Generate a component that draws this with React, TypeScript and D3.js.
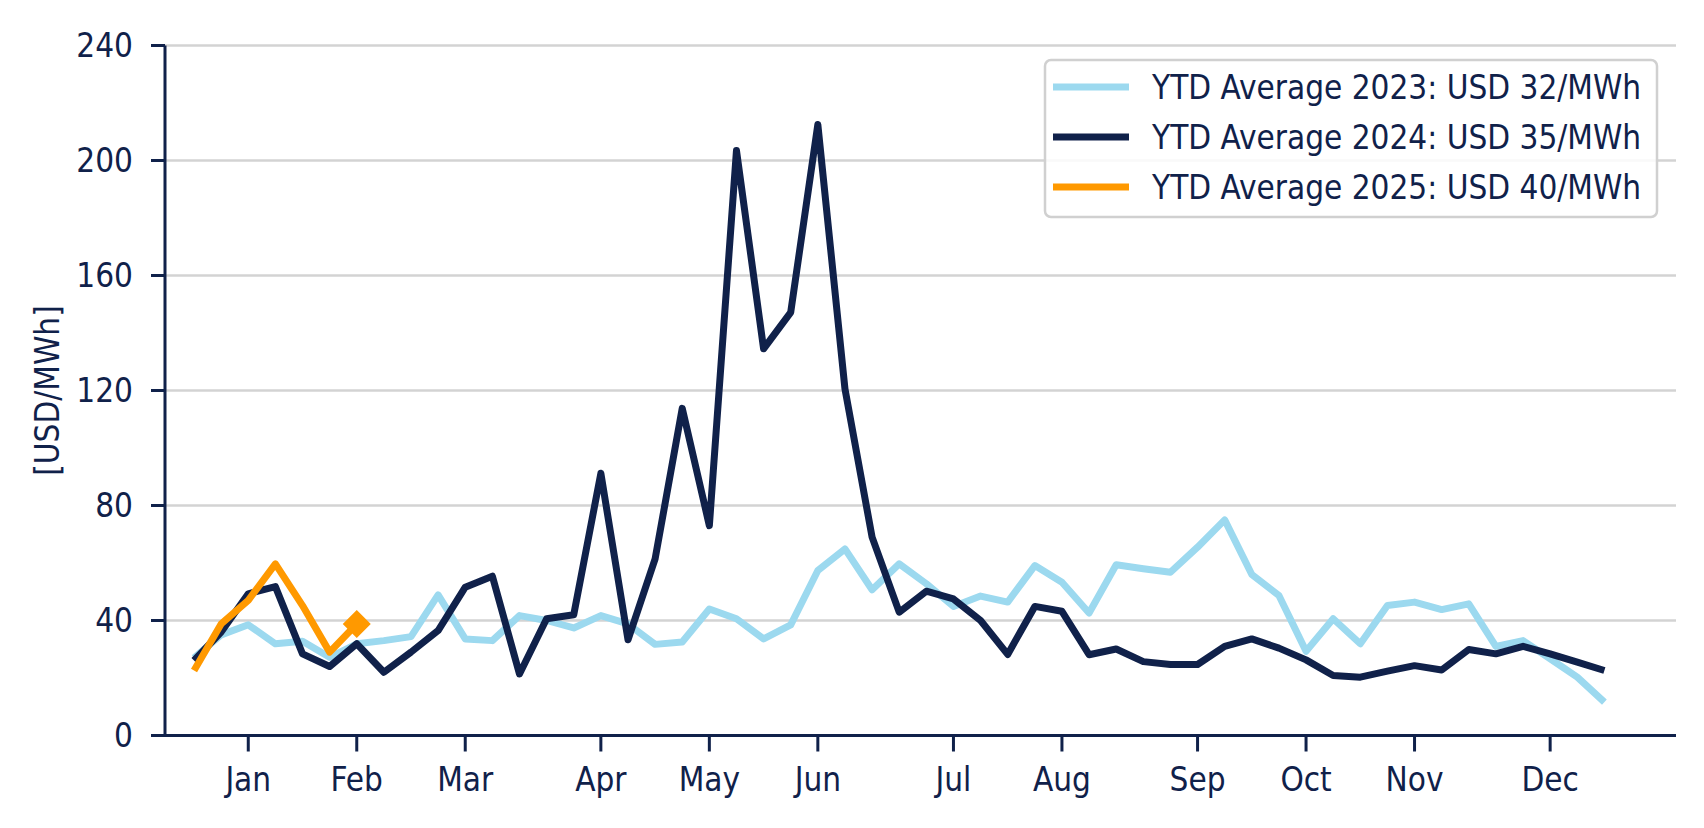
import * as d3 from 'd3'

// weekly averages, week index 0..52
const prices2023 = [27, 35, 38.5, 31.9, 32.8, 27.2, 31.9, 33, 34.4, 48.9, 33.6, 33, 41.7, 40, 37.4, 41.7, 38.8, 31.7, 32.5, 44, 40.6, 33.6, 38.5, 57.4, 64.9, 50.7, 59.7, 52.8, 44.9, 48.5, 46.4, 59.1, 53.3, 42.6, 59.4, 58, 56.8, 65.5, 75, 56, 48.7, 29.3, 40.6, 31.9, 45.2, 46.4, 43.8, 45.8, 31, 33, 26.7, 20.3, 11.6]
const prices2024 = [26.1, 36, 49.3, 51.8, 28.4, 24, 31.9, 22, 29, 36.5, 51.6, 55.4, 21.4, 40.6, 42, 91.2, 33.3, 61.4, 113.8, 73, 203.5, 134.5, 147.2, 212.5, 120.6, 69, 42.9, 50.2, 47.5, 40, 28.2, 44.9, 43.2, 28.1, 30.1, 25.7, 24.7, 24.7, 31, 33.6, 30.4, 26.3, 20.9, 20.3, 22.4, 24.3, 22.8, 29.9, 28.4, 31, 28.4, 25.5, 22.6]
const prices2025 = [22.6, 38.8, 47, 59.7, 45.2, 29, 38.8]

const monthLabels = ['Jan', 'Feb', 'Mar', 'Apr', 'May', 'Jun', 'Jul', 'Aug', 'Sep', 'Oct', 'Nov', 'Dec']
const monthWeeks = [2, 6, 10, 15, 19, 23, 28, 32, 37, 41, 45, 50]
const yTicks = [0, 40, 80, 120, 160, 200, 240]

const legendLabels = [
    'YTD Average 2023: USD 32/MWh',
    'YTD Average 2024: USD 35/MWh',
    'YTD Average 2025: USD 40/MWh'
]

const navy = '#10214a'
const colors = ['#9cd9ef', navy, '#ff9900']
const font = "'DejaVu Sans Condensed', 'DejaVu Sans', sans-serif"
const fontSize = 33

const App = () => {
    const width = 1704
    const height = 828

    const x = d3.scaleLinear().domain([-1.07, 54.64]).range([165, 1676])
    const y = d3.scaleLinear().domain([0, 240]).range([735.5, 45.5])

    const line = d3
        .line<number>()
        .x((d, i) => x(i))
        .y(d => y(d))

    const series = [prices2023, prices2024, prices2025]
    const [x0, x1] = x.range()
    const last = prices2025.length - 1
    const dx = x(last)
    const dy = y(prices2025[last])
    const r = 14

    return (
        <svg width={width} height={height} style={{ display: 'block', fontFamily: font }}>
            <style>{'body { margin: 0; }'}</style>
            <rect width={width} height={height} fill="white" />

            {yTicks.filter(t => t > 0).map(t => (
                <line key={t} x1={x0} x2={x1} y1={y(t)} y2={y(t)} stroke="#d3d3d3" strokeWidth={2.5} />
            ))}

            {series.map((s, i) => (
                <path
                    key={i}
                    d={line(s)}
                    fill="none"
                    stroke={colors[i]}
                    strokeWidth={7}
                    strokeLinejoin="round"
                />
            ))}
            <path
                d={`M${dx},${dy - r}L${dx + r},${dy}L${dx},${dy + r}L${dx - r},${dy}Z`}
                fill={colors[2]}
            />

            {/* axes */}
            <line x1={x0} x2={x0} y1={y(240)} y2={y(0)} stroke={navy} strokeWidth={3} />
            <line x1={x0} x2={x1} y1={y(0)} y2={y(0)} stroke={navy} strokeWidth={3} />
            {yTicks.map(t => (
                <g key={t}>
                    <line x1={x0 - 14} x2={x0} y1={y(t)} y2={y(t)} stroke={navy} strokeWidth={3} />
                    <text x={133} y={y(t)} dy="0.36em" textAnchor="end" fontSize={fontSize} fill={navy}>
                        {t}
                    </text>
                </g>
            ))}
            {monthWeeks.map((w, i) => (
                <g key={w}>
                    <line x1={x(w)} x2={x(w)} y1={y(0)} y2={y(0) + 16} stroke={navy} strokeWidth={3} />
                    <text x={x(w)} y={791} textAnchor="middle" fontSize={fontSize} fill={navy}>
                        {monthLabels[i]}
                    </text>
                </g>
            ))}
            <text
                transform={`translate(47, ${(y(0) + y(240)) / 2}) rotate(-90)`}
                dy="0.36em"
                textAnchor="middle"
                fontSize={fontSize}
                fill={navy}
            >
                [USD/MWh]
            </text>

            {/* legend */}
            <rect x={1045} y={60} width={612} height={157} rx={6} fill="white" fillOpacity={0.85} stroke="#d0d0d0" strokeWidth={2.5} />
            {legendLabels.map((label, i) => (
                <g key={label} transform={`translate(0, ${87 + i * 50})`}>
                    <line x1={1053} x2={1129} stroke={colors[i]} strokeWidth={7} />
                    <text x={1152} dy="0.36em" fontSize={fontSize} fill={navy}>
                        {label}
                    </text>
                </g>
            ))}
        </svg>
    )
}

export default App
